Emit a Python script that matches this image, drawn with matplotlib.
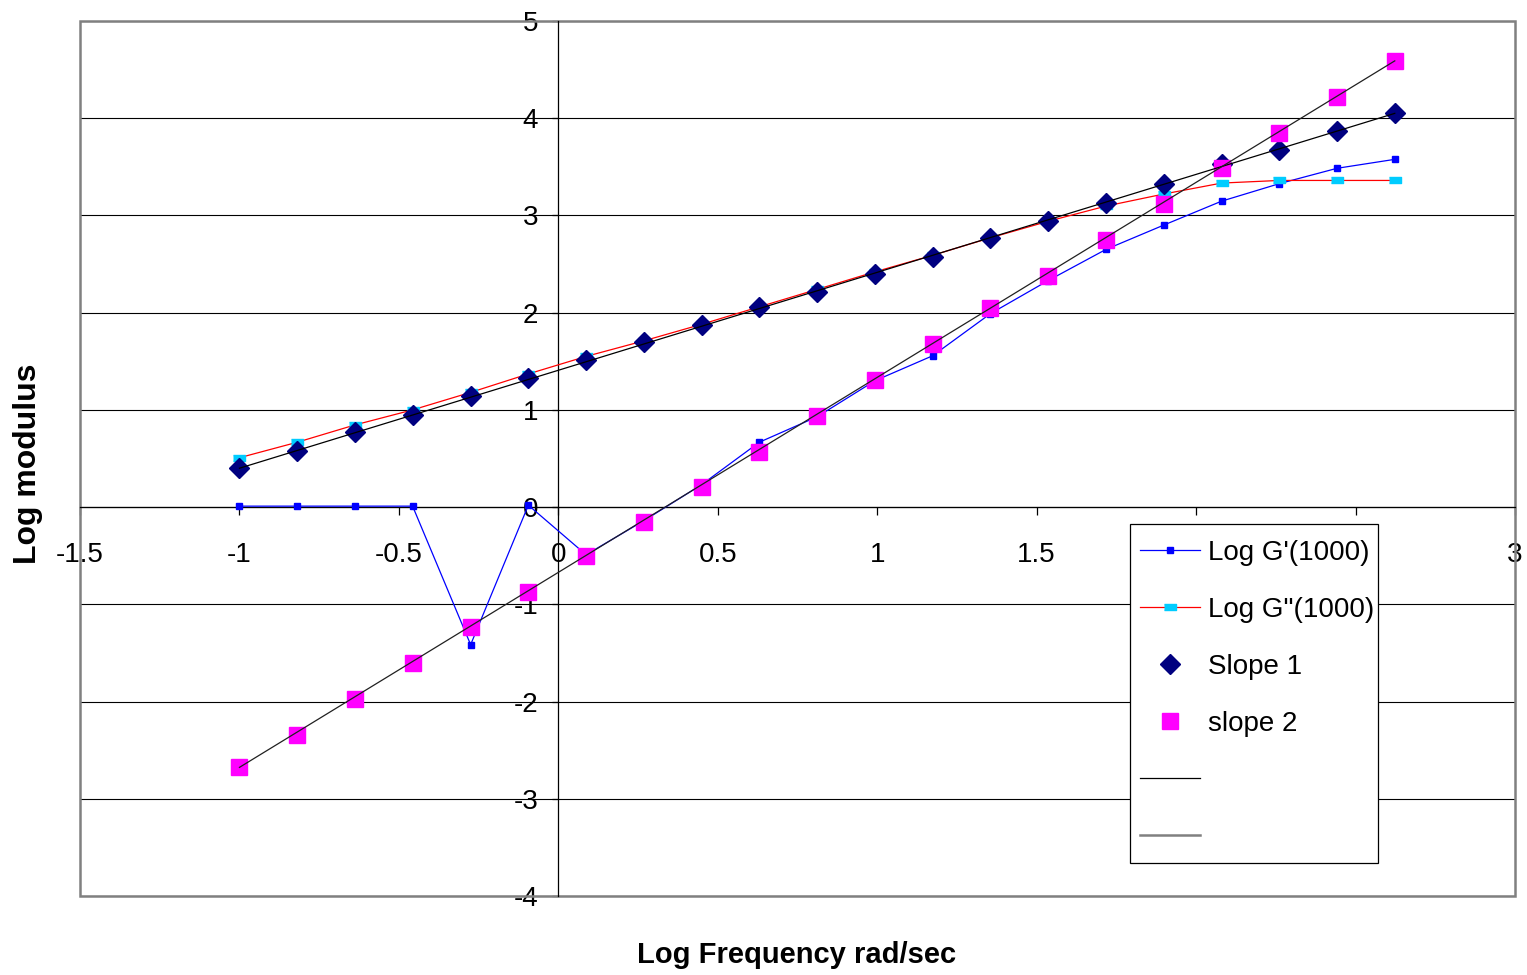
import matplotlib
matplotlib.use("Agg")
import matplotlib.pyplot as plt
from matplotlib.lines import Line2D
from matplotlib.patches import Rectangle

plt.rcParams['font.family'] = ['Liberation Sans', 'DejaVu Sans']

# ---- data ----
log_freq = [-1.0, -0.819, -0.638, -0.457, -0.275, -0.094, 0.087, 0.268, 0.449, 0.630,
            0.812, 0.993, 1.174, 1.355, 1.536, 1.717, 1.898, 2.080, 2.261, 2.442, 2.623]
log_g1 = [0.01, 0.01, 0.01, 0.01, -1.415, 0.02, -0.49, -0.14, 0.23, 0.667,
          0.93, 1.30, 1.557, 1.99, 2.33, 2.65, 2.90, 3.147, 3.327, 3.485, 3.577]
log_g2 = [0.508, 0.667, 0.845, 1.0, 1.18, 1.37, 1.55, 1.71, 1.88, 2.06,
          2.24, 2.42, 2.59, 2.77, 2.94, 3.096, 3.22, 3.333, 3.36, 3.36, 3.36]
slope1 = [0.40, 0.58, 0.776, 0.95, 1.144, 1.333, 1.51, 1.694, 1.873, 2.059,
          2.215, 2.40, 2.577, 2.763, 2.948, 3.131, 3.32, 3.53, 3.67, 3.87, 4.05]
slope2 = [-2.677, -2.34, -1.976, -1.605, -1.234, -0.873, -0.505, -0.158, 0.21, 0.57,
          0.94, 1.31, 1.68, 2.05, 2.38, 2.75, 3.12, 3.485, 3.85, 4.22, 4.59]
line1_x = [-1.0, 2.623]
line1_y = [0.40, 4.05]
line2_x = [-1.0, 2.623]
line2_y = [-2.677, 4.59]

labels = ["Log G'(1000)", 'Log G"(1000)', "Slope 1", "slope 2", " ", " "]
x_ticks = [-1.5, -1, -0.5, 0, 0.5, 1, 1.5, 2, 2.5, 3]
x_ticklabels = ["-1.5", "-1", "-0.5", "0", "0.5", "1", "1.5", "2", "2.5", "3"]
y_ticks = [-4, -3, -2, -1, 0, 1, 2, 3, 4, 5]
y_ticklabels = ["-4", "-3", "-2", "-1", "0", "1", "2", "3", "4", "5"]

W, H = 1527, 975
fig = plt.figure(figsize=(W / 100, H / 100), dpi=100)
ax = fig.add_axes([80 / W, 1 - 896 / H, (1515 - 80) / W, (896 - 21) / H])

rect_marker = [(-1, -0.5), (1, -0.5), (1, 0.5), (-1, 0.5)]

h1, = ax.plot(log_freq, log_g1, color='#0000FF', lw=0.9, marker='s', markersize=4.5,
              markerfacecolor='#0000FF', markeredgecolor='#0000FF', zorder=3)
h2, = ax.plot(log_freq, log_g2, color='#FF0000', lw=0.9, marker=rect_marker, markersize=9,
              markerfacecolor='#00CCFF', markeredgecolor='#00CCFF', zorder=4)
h3, = ax.plot(log_freq, slope1, ls='none', marker='D', markersize=10,
              markerfacecolor='#000080', markeredgecolor='#000080', zorder=5)
h4, = ax.plot(log_freq, slope2, ls='none', marker='s', markersize=11,
              markerfacecolor='#FF00FF', markeredgecolor='#FF00FF', zorder=6)
h5, = ax.plot(line1_x, line1_y, color='black', lw=0.9, zorder=7)
h6, = ax.plot(line2_x, line2_y, color='#202020', lw=0.9, zorder=7)

ax.set_xlim(-1.5, 3)
ax.set_ylim(-4, 5)
ax.set_xticks(x_ticks)
ax.set_xticklabels(x_ticklabels)
ax.set_yticks(y_ticks)
ax.set_yticklabels(y_ticklabels)

for s in ['top', 'right']:
    ax.spines[s].set_visible(False)
ax.spines['left'].set_position(('data', 0))
ax.spines['bottom'].set_position(('data', 0))
for s in ['left', 'bottom']:
    ax.spines[s].set_color('black')
    ax.spines[s].set_linewidth(0.9)
    ax.spines[s].set_zorder(2)

ax.tick_params(axis='y', direction='out', length=4.5, width=0.9, pad=10, labelsize=20)
ax.tick_params(axis='x', direction='out', length=6, width=0.9, pad=19, labelsize=20)

ax.yaxis.grid(True, color='black', lw=0.8, zorder=1)
ax.set_axisbelow(True)

ax.add_patch(Rectangle((0, 0), 1, 1, transform=ax.transAxes, fill=False,
                       edgecolor='#808080', lw=1.8, clip_on=False, zorder=2))

fig.text(28 / W, 1 - 464 / H, 'Log modulus', rotation=90, ha='center', va='center',
         fontsize=23, fontweight='bold')
fig.text(797 / W, 1 - 955 / H, 'Log Frequency rad/sec', ha='center', va='center',
         fontsize=21, fontweight='bold')

# legend box (white, black border) at the reference position
ax.add_patch(Rectangle((1130 / W, 1 - 863 / H), (1378 - 1130) / W, (863 - 524) / H,
                       transform=fig.transFigure, facecolor='white', edgecolor='black',
                       lw=0.9, clip_on=False, zorder=9))

leg_l1 = Line2D([], [], color='black', lw=0.9)
leg_l2 = Line2D([], [], color='#808080', lw=1.8)
leg = ax.legend([h1, h2, h3, h4, leg_l1, leg_l2], labels, loc='upper left',
                bbox_to_anchor=(1129 / W, 1 - 529 / H), bbox_transform=fig.transFigure,
                frameon=False, fontsize=20, handlelength=2.16, handletextpad=0.3,
                labelspacing=1.115, borderpad=0.4, borderaxespad=0)
leg.set_zorder(10)

fig.savefig('out.png', dpi=100, facecolor='white')
